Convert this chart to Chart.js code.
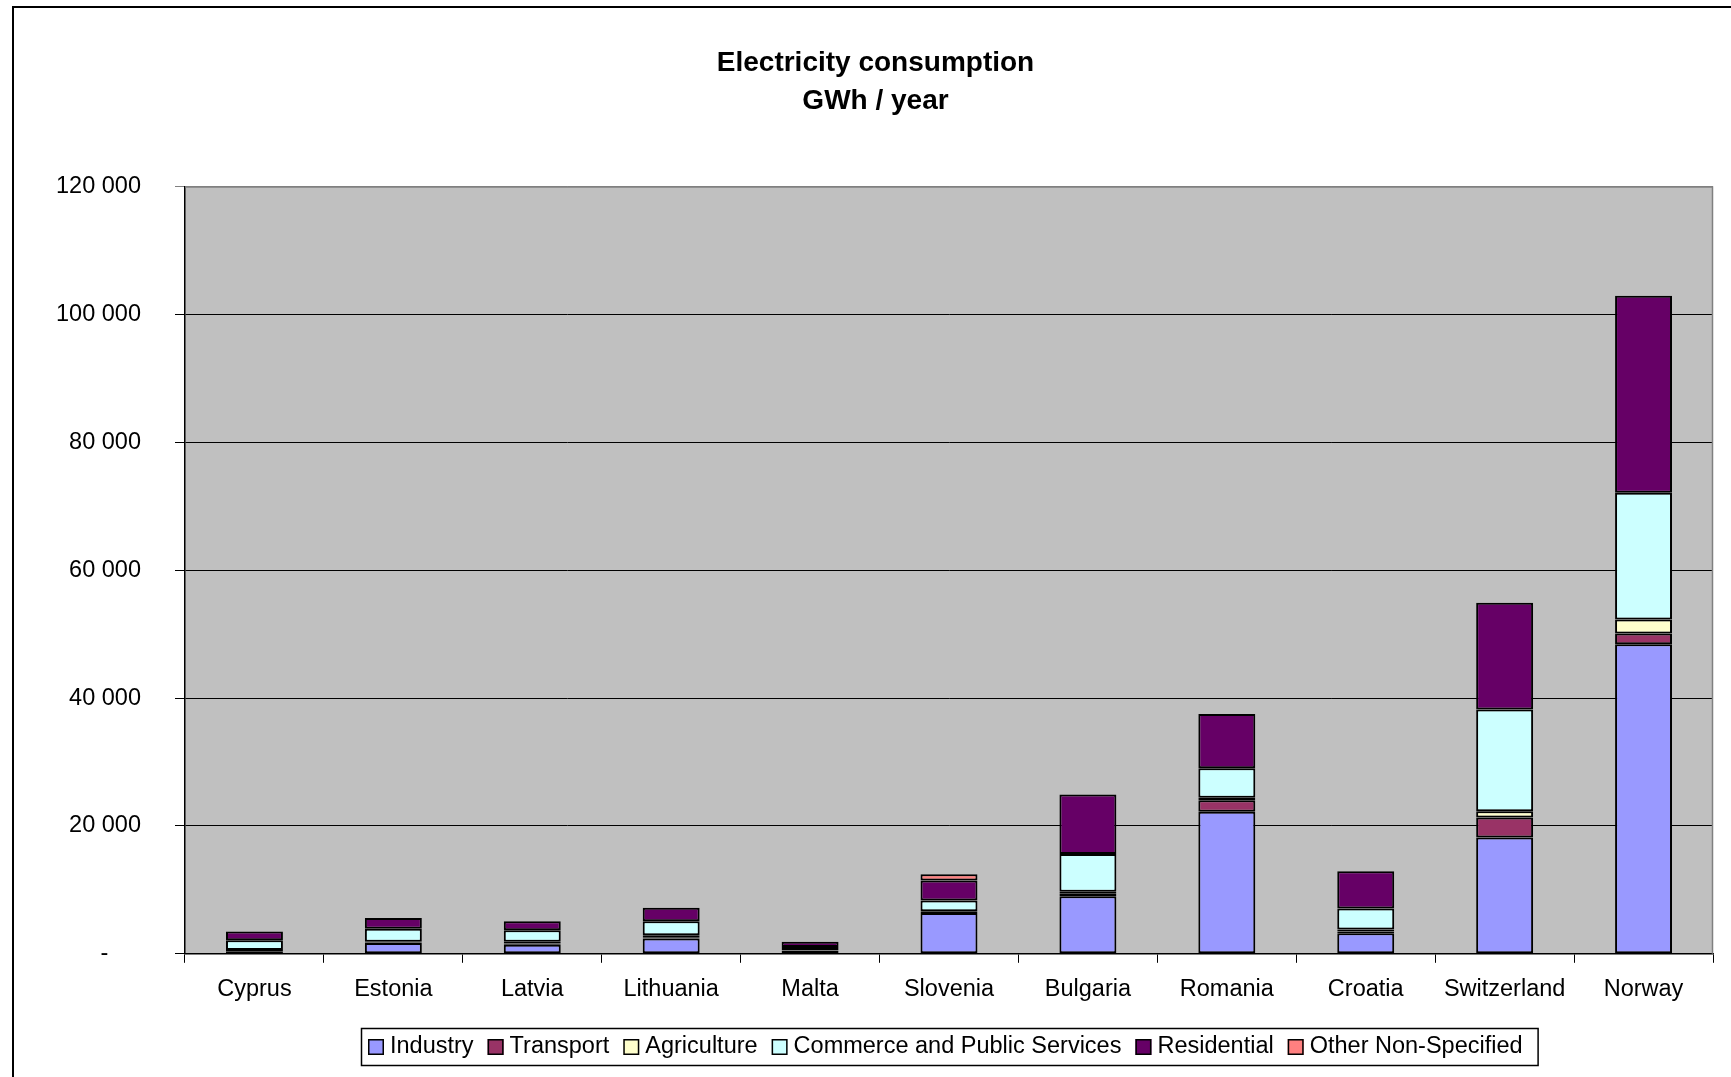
<!DOCTYPE html>
<html>
<head>
<meta charset="utf-8">
<script src="https://cdn.jsdelivr.net/npm/chart.js@4/dist/chart.umd.min.js"></script>
<style>
html,body{margin:0;padding:0;background:#fff;}
#wrap{width:1731px;height:1077px;position:relative;}
</style>
</head>
<body>
<div id="wrap"><canvas id="c" width="1731" height="1077"></canvas></div>
<script>
const categories = ['Cyprus','Estonia','Latvia','Lithuania','Malta','Slovenia','Bulgaria','Romania','Croatia','Switzerland','Norway'];
const industry    = [400, 1700, 1400, 2400, 500, 6400, 9000, 22200, 3200, 18200, 48400];
const transport   = [50, 50, 200, 200, 20, 150, 400, 1800, 300, 3100, 1700];
const agriculture = [150, 150, 300, 300, 50, 100, 300, 400, 300, 1000, 2200];
const commerce    = [1500, 2000, 1800, 2200, 500, 1700, 5900, 4600, 3300, 15900, 19800];
const residential = [1400, 1700, 1400, 2100, 800, 3100, 9300, 8500, 5800, 16700, 30800];
const otherNS     = [0, 0, 0, 0, 0, 1000, 0, 0, 0, 0, 0];
const yTickValues = [0, 20000, 40000, 60000, 80000, 100000, 120000];
const yTickLabels = ['-', '20 000', '40 000', '60 000', '80 000', '100 000', '120 000'];
const titleLines = ['Electricity consumption', 'GWh / year'];

const FONT = "'Liberation Sans', Arial, sans-serif";

const series = [
  {label:'Industry', data: industry, color:'#9999FF'},
  {label:'Transport', data: transport, color:'#993366'},
  {label:'Agriculture', data: agriculture, color:'#FFFFCC'},
  {label:'Commerce and Public Services', data: commerce, color:'#CCFFFF'},
  {label:'Residential', data: residential, color:'#660066'},
  {label:'Other Non-Specified', data: otherNS, color:'#FF8080'}
];

const decor = {
  id:'decor',
  beforeDraw(chart){
    const {ctx, chartArea:a} = chart;
    ctx.save();
    ctx.fillStyle = '#C0C0C0';
    ctx.fillRect(a.left, a.top, a.right-a.left, a.bottom-a.top);
    ctx.restore();
  },
  afterDraw(chart){
    const {ctx, chartArea:a} = chart;
    ctx.save();
    // plot area border (top/right gray)
    ctx.strokeStyle = '#808080';
    ctx.lineWidth = 1.5;
    ctx.beginPath();
    ctx.moveTo(a.left, a.top+0.5);
    ctx.lineTo(a.right-0.5, a.top+0.5);
    ctx.lineTo(a.right-0.5, a.bottom);
    ctx.stroke();
    // outer chart border
    ctx.strokeStyle = '#000';
    ctx.lineWidth = 2;
    ctx.beginPath();
    ctx.moveTo(13, 1077);
    ctx.lineTo(13, 7);
    ctx.lineTo(1731, 7);
    ctx.stroke();
    // legend (drawn from the dataset labels/colours)
    const ds = chart.data.datasets;
    ctx.font = '23.5px ' + FONT;
    ctx.textBaseline = 'middle';
    ctx.textAlign = 'left';
    const boxL = 361, boxT = 1028, boxB = 1065;
    const cy = (boxT + boxB) / 2 + 0.5;
    let x = 368;
    ds.forEach(d=>{
      const sq = 16;
      ctx.fillStyle = d.backgroundColor;
      ctx.fillRect(x, cy - sq/2, sq, sq);
      ctx.strokeStyle = '#000';
      ctx.lineWidth = 1.5;
      ctx.strokeRect(x+0.75, cy - sq/2 + 0.75, sq-1.5, sq-1.5);
      ctx.fillStyle = '#000';
      const tx = x + sq + 6;
      ctx.fillText(d.label, tx, cy);
      x = tx + ctx.measureText(d.label).width + 14;
    });
    ctx.strokeStyle = '#000';
    ctx.lineWidth = 1.5;
    ctx.strokeRect(boxL + 0.5, boxT + 0.5, (x - 14 + 15) - boxL, boxB - boxT);
    ctx.restore();
  }
};

new Chart(document.getElementById('c'), {
  type:'bar',
  data:{
    labels: categories,
    datasets: series.map(s=>({
      label:s.label, data:s.data, backgroundColor:s.color,
      borderColor:'#000', borderWidth:2, borderSkipped:false,
      barPercentage:0.41, categoryPercentage:1.0
    }))
  },
  options:{
    responsive:false, animation:false,
    layout:{padding:{left:38,right:18,top:0,bottom:60}},
    plugins:{
      title:{display:true, text:titleLines, color:'#000',
        font:{family:FONT, size:28, weight:'bold', lineHeight:1.33},
        padding:{top:45,bottom:67}},
      legend:{display:false},
      tooltip:{enabled:false}
    },
    scales:{
      x:{stacked:true,
        grid:{display:true, drawOnChartArea:false, tickLength:9, color:'#000', offset:true},
        border:{color:'#000', width:1.5},
        ticks:{color:'#000', font:{family:FONT, size:23.5}, padding:13, maxRotation:0, autoSkip:false}},
      y:{stacked:true, min:0, max:120000,
        afterBuildTicks(scale){ scale.ticks = yTickValues.map(v=>({value:v})); },
        afterFit(scale){ scale.width = 147; },
        grid:{color:(c)=> c.tick && c.tick.value===120000 ? '#808080' : '#000', tickLength:10, lineWidth:1},
        border:{color:'#000', width:1.5},
        ticks:{color:'#000', font:{family:FONT, size:23.5}, padding:34,
          callback:(v)=>{const i=yTickValues.indexOf(v); if(i<0) return ''; const s=yTickLabels[i]; return s==='-' ? s+'\u00a0\u00a0\u00a0\u00a0\u00a0' : s;}}}
    }
  },
  plugins:[decor]
});
</script>
</body>
</html>
